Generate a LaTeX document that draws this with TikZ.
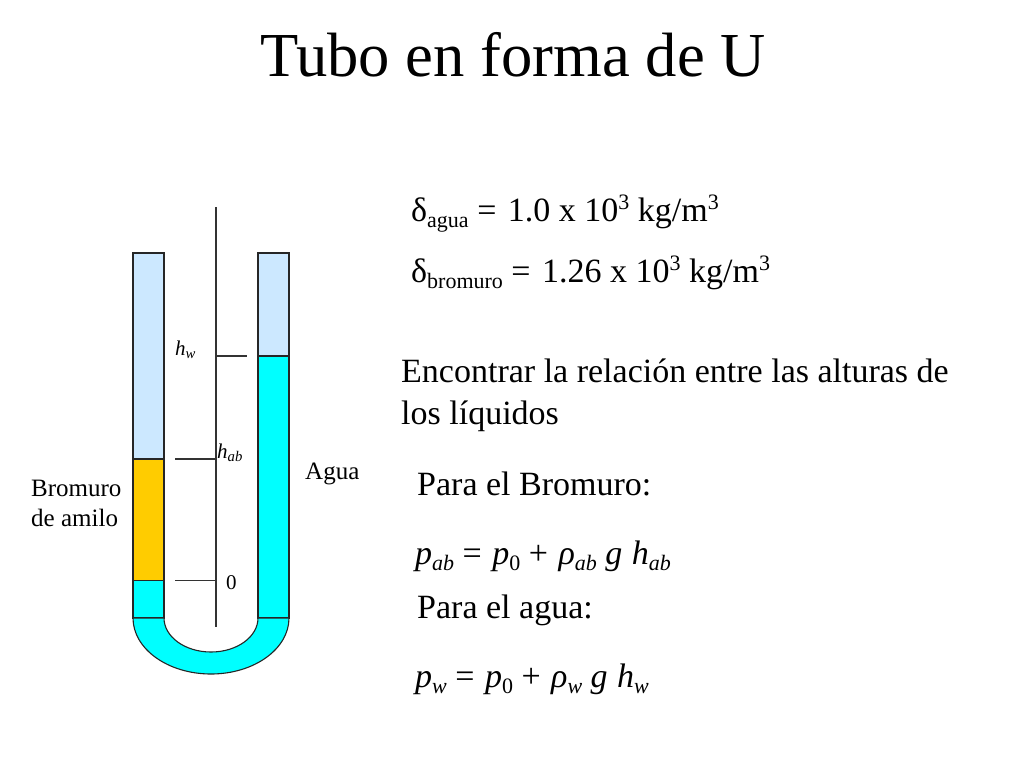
\documentclass[tikz,border=0pt]{standalone}
\usepackage{fontspec}
\setmainfont{Liberation Serif}
\usepackage{tikz}

\definecolor{aireblue}{RGB}{204,232,255}
\definecolor{aguacyan}{RGB}{0,255,255}
\definecolor{bromuroamber}{RGB}{255,204,0}

\newcommand{\fsize}[1]{\fontsize{#1}{#1}\selectfont}
\newcommand{\lowtxt}[1]{\raisebox{-0.2em}{\fsize{22}#1}}
\newcommand{\hightxt}[1]{\raisebox{0.33em}{\fsize{22}#1}}

\tikzset{
	tube/.style={draw=black!85, line width=1.1pt},
	scaleline/.style={draw=black!80, line width=1.1pt},
	txtbig/.style={inner sep=0pt, anchor=base west, font=\fsize{34}},
	txtsmall/.style={inner sep=0pt, anchor=base west, font=\fsize{25}, align=left},
	txthgt/.style={inner sep=0pt, anchor=base west, font=\fsize{21}\itshape}
}

\begin{document}
\begin{tikzpicture}[x=1pt,y=-1pt]
	\useasboundingbox (0,0) rectangle (1024,768);

	% tube
	\draw[tube, fill=aireblue] (133,253) rectangle (164,459);
	\draw[tube, fill=bromuroamber] (133,459) rectangle (164,580.5);
	\draw[tube, fill=aguacyan] (133,580.5) rectangle (164,618);
	\draw[tube, fill=aireblue] (258,253) rectangle (289,356);
	\draw[tube, fill=aguacyan] (258,356) rectangle (289,618);
	\draw[tube, fill=aguacyan] (133,618) -- (164,618)
		arc[start angle=180, end angle=0, x radius=47, y radius=34] -- (289,618)
		arc[start angle=0, end angle=180, x radius=78, y radius=56] -- cycle;

	% scale
	\coordinate (axistop) at (216,207);
	\coordinate (axisbot) at (216,627);
	\coordinate (hwleft) at (216,356);
	\coordinate (hwright) at (247,356);
	\coordinate (hableft) at (175,459);
	\coordinate (habright) at (216,459);
	\coordinate (zeroleft) at (175,580.5);
	\coordinate (zeroright) at (216,580.5);
	\draw[scaleline] (axistop) -- (axisbot);
	\draw[scaleline] (hwleft) -- (hwright);
	\draw[scaleline] (hableft) -- (habright);
	\draw[scaleline] (zeroleft) -- (zeroright);

	\node[txthgt] (hw) at (175,355) {h\textsubscript{w}};
	\node[txthgt] (hab) at (217,458) {h\textsubscript{ab}};
	\node[txtsmall, font=\fsize{21}] (zero) at (226,589) {0};
	\node[txtsmall] (agua) at (305,479) {Agua};
	\node[txtsmall] (bromuro) at (31,496) {Bromuro};
	\node[txtsmall] (amilo) at (31,526) {de amilo};

	% text
	\node[inner sep=0pt, anchor=base, font=\fsize{62.6}] (title) at (513,77) {Tubo en forma de U};
	\node[txtbig] (dagua) at (411,221) {δ\lowtxt{agua} =\kern3pt{} 1.0 x 10\hightxt{3} kg/m\hightxt{3}};
	\node[txtbig] (dbromuro) at (411,282) {δ\lowtxt{bromuro} =\kern3pt{} 1.26 x 10\hightxt{3} kg/m\hightxt{3}};
	\node[txtbig] (rel1) at (401,382) {Encontrar la relación entre las alturas de};
	\node[txtbig] (rel2) at (401,424) {los líquidos};
	\node[txtbig] (parabrom) at (417,495) {Para el Bromuro:};
	\node[txtbig] (pab) at (415,564) {\textit{p\lowtxt{ab}} =\kern2pt{} \textit{p}\lowtxt{0} +\kern2pt{} \textit{ρ\lowtxt{ab}} \textit{g \kern1pt{}h\lowtxt{ab}}};
	\node[txtbig] (paraagua) at (417,618) {Para el agua:};
	\node[txtbig] (pw) at (415,687) {\textit{p\lowtxt{w}} =\kern2pt{} \textit{p}\lowtxt{0} +\kern2pt{} \textit{ρ\lowtxt{w}} \textit{g \kern1pt{}h\lowtxt{w}}};
\end{tikzpicture}
\end{document}
